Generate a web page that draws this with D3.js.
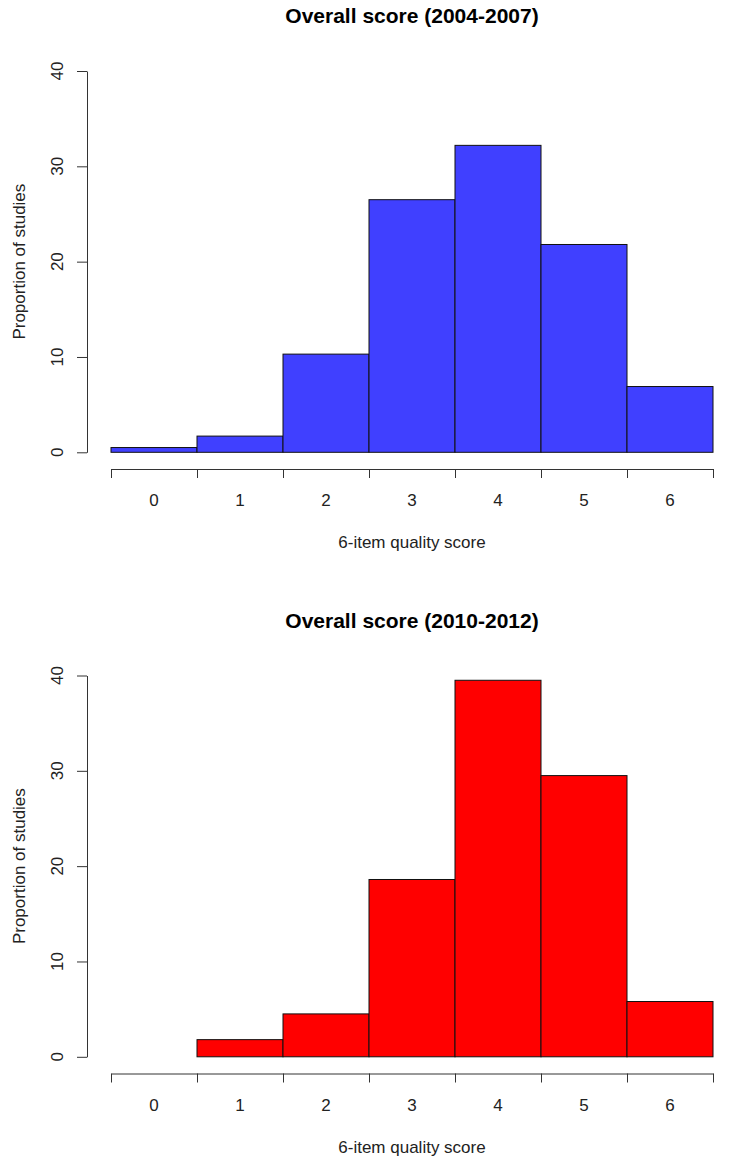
<!DOCTYPE html>
<html>
<head>
<meta charset="utf-8">
<script src="https://cdn.jsdelivr.net/npm/d3@7"></script>
<style>
  body { margin: 0; background: #fff; }
  text { font-family: "Liberation Sans", Arial, sans-serif; fill: #222; }
</style>
</head>
<body>
<div id="chart"></div>
<script>
// quality score categories (histogram bins)
var scores = [0, 1, 2, 3, 4, 5, 6];
var yTicks = [0, 10, 20, 30, 40];

// proportion of studies, %
var score_2004_2007 = [0.5, 1.7, 10.3, 26.5, 32.2, 21.8, 6.9];
var score_2010_2012 = [0.0, 1.8, 4.5, 18.6, 39.5, 29.5, 5.8];

var titles = ["Overall score (2004-2007)", "Overall score (2010-2012)"];
var colors = ["#4040ff", "#ff0000"];

var width = 729, height = 1157;

var svg = d3.select("#chart").append("svg")
    .attr("width", width)
    .attr("height", height);

function drawHist(top, title, values, color) {
    var g = svg.append("g").attr("transform", "translate(0," + top + ")");

    // bins run from edge i to i+1
    var x = d3.scaleLinear().domain([0, scores.length]).range([111, 713]);
    var y = d3.scaleLinear().domain([0, 40]).range([452.3, 71]);

    g.append("text")
        .attr("x", (x.range()[0] + x.range()[1]) / 2)
        .attr("y", 23)
        .attr("text-anchor", "middle")
        .style("font-size", "21px")
        .style("font-weight", "bold")
        .style("fill", "#000")
        .text(title);

    g.selectAll("rect.bar")
        .data(values)
        .enter().append("rect")
        .attr("class", "bar")
        .attr("x", function(d, i) { return x(i); })
        .attr("width", function(d, i) { return x(i + 1) - x(i); })
        .attr("y", function(d) { return y(d); })
        .attr("height", function(d) { return y(0) - y(d); })
        .attr("fill", color)
        .attr("stroke", function(d) { return d > 0 ? "#111" : "none"; })
        .attr("stroke-width", 1);

    // x axis: ticks on bin edges, labels in the middle of bins
    var xAxis = g.append("g")
        .attr("transform", "translate(0,469)")
        .call(d3.axisBottom(x).tickValues(d3.range(scores.length + 1))
            .tickFormat("").tickSize(9).tickSizeOuter(0));
    xAxis.selectAll("path, line").attr("stroke", "#333");

    g.selectAll("text.xlab")
        .data(scores)
        .enter().append("text")
        .attr("class", "xlab")
        .attr("x", function(d, i) { return x(i + 0.5); })
        .attr("y", 506)
        .attr("text-anchor", "middle")
        .style("font-size", "17px")
        .text(function(d) { return d; });

    g.append("text")
        .attr("x", (x.range()[0] + x.range()[1]) / 2)
        .attr("y", 548)
        .attr("text-anchor", "middle")
        .style("font-size", "17px")
        .text("6-item quality score");

    // y axis
    var yAxis = g.append("g")
        .attr("transform", "translate(87,0)")
        .call(d3.axisLeft(y).tickValues(yTicks).tickSize(10).tickSizeOuter(0));
    yAxis.selectAll("path, line").attr("stroke", "#333");
    yAxis.selectAll("text").remove();

    g.selectAll("text.ylab")
        .data(yTicks)
        .enter().append("text")
        .attr("class", "ylab")
        .attr("transform", function(d) { return "translate(63," + y(d) + ") rotate(-90)"; })
        .attr("text-anchor", "middle")
        .style("font-size", "17px")
        .text(function(d) { return d; });

    g.append("text")
        .attr("transform", "translate(25," + ((y.range()[0] + y.range()[1]) / 2) + ") rotate(-90)")
        .attr("text-anchor", "middle")
        .style("font-size", "17px")
        .text("Proportion of studies");
}

drawHist(0, titles[0], score_2004_2007, colors[0]);
drawHist(604.5, titles[1], score_2010_2012, colors[1]);
</script>
</body>
</html>
